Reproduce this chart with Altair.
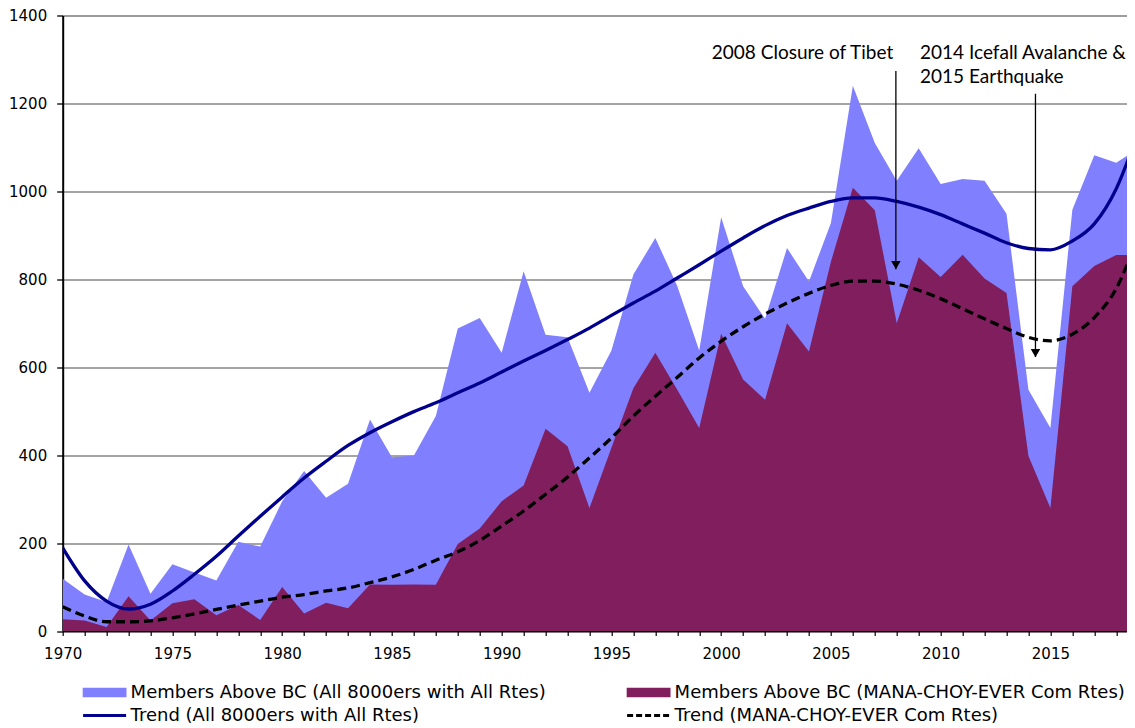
import altair as alt
import pandas as pd

YEARS = list(range(1970, 2020))

A1 = "Members Above BC (All 8000ers with All Rtes)"
A2 = "Members Above BC (MANA-CHOY-EVER Com Rtes)"
T1 = "Trend (All 8000ers with All Rtes)"
T2 = "Trend (MANA-CHOY-EVER Com Rtes)"
# legend is filled column by column: column 1 = A1, T1; column 2 = A2, T2
SERIES = [A1, T1, A2, T2]
COLORS = ["#8080FF", "#00008C", "#801E5E", "#000000"]

ALL_RTES = [119, 83, 66, 197, 85, 152, 133, 115, 203, 192,
            295, 364, 303, 335, 481, 395, 399, 489, 688, 712,
            633, 818, 674, 668, 542, 638, 811, 894, 785, 638,
            941, 784, 710, 871, 795, 928, 1240, 1110, 1024, 1098,
            1017, 1028, 1024, 949, 549, 462, 958, 1082, 1065, 1098]

MANA_RTES = [27, 24, 9, 79, 24, 63, 72, 36, 59, 25,
             100, 40, 64, 52, 106, 105, 106, 105, 198, 233,
             295, 331, 460, 420, 280, 417, 552, 633, 549, 462,
             676, 572, 526, 700, 636, 840, 1008, 957, 700, 850,
             805, 856, 802, 769, 398, 280, 784, 830, 855, 855]

TREND_ALL = [189, 114, 68, 50, 61, 91, 129, 170, 216, 261,
             305, 348, 386, 422, 451, 476, 499, 519, 542, 564,
             589, 614, 638, 663, 689, 718, 746, 773, 803, 833,
             864, 894, 922, 945, 962, 977, 985, 985, 977, 964,
             947, 926, 905, 883, 870, 867, 887, 926, 1006, 1135]

TREND_MANA = [55, 34, 21, 21, 23, 30, 39, 49, 59, 68,
              77, 83, 91, 98, 110, 123, 140, 161, 180, 206,
              239, 273, 311, 350, 394, 439, 489, 534, 577, 621,
              659, 692, 721, 746, 768, 786, 796, 796, 789, 775,
              756, 733, 710, 688, 668, 660, 675, 713, 779, 900]

X_TICKS = list(range(1970, 2019))
Y_TICKS = [0, 200, 400, 600, 800, 1000, 1200, 1400]

NOTE1 = "2008 Closure of Tibet"
NOTE2 = "2014 Icefall Avalanche &\n2015 Earthquake"

area_df = pd.DataFrame({
    "year": YEARS * 2,
    "value": ALL_RTES + MANA_RTES,
    "series": [A1] * len(YEARS) + [A2] * len(YEARS),
})
trend_df = pd.DataFrame({
    "year": YEARS * 2,
    "value": TREND_ALL + TREND_MANA,
    "series": [T1] * len(YEARS) + [T2] * len(YEARS),
})
note1_df = pd.DataFrame({"year": [2007.84], "value": [1300], "text": [NOTE1]})
note2_df = pd.DataFrame({"year": [2009.06], "value": [1300], "text": [NOTE2]})
arrow_df = pd.DataFrame({"year": [2007.96, 2014.32],
                         "value": [823, 623], "value2": [1274, 1222]})

X_AXIS = alt.Axis(values=X_TICKS, format="d",
                  labelExpr="datum.value % 5 == 0 ? datum.label : ''",
                  labelOverlap=False, labelFlush=False, grid=False,
                  tickSize=4.5, tickColor="black", tickWidth=1.2,
                  domainColor="black", domainWidth=1.5,
                  labelFont="DejaVu Sans", labelFontSize=15,
                  labelColor="black", labelPadding=10.5)
Y_AXIS = alt.Axis(values=Y_TICKS, format="d", grid=True,
                  gridColor="#4a4a4a", gridWidth=1, gridOpacity=1,
                  tickSize=6, tickColor="black", tickWidth=1.3,
                  domainColor="black", domainWidth=2,
                  labelFont="DejaVu Sans", labelFontSize=15,
                  labelColor="black", labelPadding=10, labelFlush=False)
X_SCALE = alt.Scale(domain=[1970, 2018.49], nice=False, zero=False)
Y_SCALE = alt.Scale(domain=[0, 1400], nice=False)

X = alt.X("year:Q", scale=X_SCALE, axis=X_AXIS, title=None)
Y = alt.Y("value:Q", scale=Y_SCALE, axis=Y_AXIS, title=None)
Y_AREA = alt.Y("value:Q", stack=None, scale=Y_SCALE, axis=Y_AXIS, title=None)

SCALE = alt.Scale(domain=SERIES, range=COLORS)
LEGEND = alt.Legend(
    title=None, orient="none", legendX=18.9, legendY=667.0,
    columns=2, columnPadding=79, rowPadding=3, clipHeight=20, padding=0,
    labelFont="DejaVu Sans", labelFontSize=18, labelColor="black",
    labelLimit=800, labelOffset=3,
    symbolSize=1849, symbolStrokeWidth=3, symbolOpacity=1,
    symbolType={"expr": "indexof(datum.value, 'Trend') == 0 ? 'stroke' : 'M-0.95,-0.1465H0.95V0.1465H-0.95Z'"},
    symbolDash={"expr": "datum.value == 'Trend (MANA-CHOY-EVER Com Rtes)' ? [6, 3] : []"},
    symbolStrokeColor={"expr": "scale('color', datum.value)"},
)

area_all = alt.Chart(area_df).transform_filter(
    alt.datum.series == A1
).mark_area(clip=True, opacity=1, interpolate="linear").encode(
    x=X, y=Y_AREA,
    color=alt.Color("series:N", scale=SCALE, legend=LEGEND),
)
area_mana = alt.Chart(area_df).transform_filter(
    alt.datum.series == A2
).mark_area(clip=True, opacity=1, interpolate="linear").encode(
    x=X, y=Y_AREA,
    color=alt.Color("series:N", scale=SCALE, legend=None),
)
line_all = alt.Chart(trend_df).transform_filter(
    alt.datum.series == T1
).mark_line(clip=True, strokeWidth=3.3, interpolate="monotone").encode(
    x=X, y=Y, color=alt.Color("series:N", scale=SCALE, legend=None),
)
line_mana = alt.Chart(trend_df).transform_filter(
    alt.datum.series == T2
).mark_line(clip=True, strokeWidth=3.3, strokeDash=[9, 5],
            interpolate="monotone").encode(
    x=X, y=Y, color=alt.Color("series:N", scale=SCALE, legend=None),
)

arrow_lines = alt.Chart(arrow_df).mark_rule(color="black", strokeWidth=1.3).encode(
    x=X, y=Y, y2="value2:Q")
arrow_heads = alt.Chart(arrow_df).mark_point(
    shape="triangle-down", filled=True, color="black", opacity=1, size=90, yOffset=-4
).encode(x=X, y=Y)

note1 = alt.Chart(note1_df).mark_text(
    align="right", baseline="alphabetic", font="Lato", fontSize=19, color="black"
).encode(x=X, y=Y, text="text:N")
note2 = alt.Chart(note2_df).mark_text(
    align="left", baseline="alphabetic", font="Lato", fontSize=19, color="black",
    lineBreak="\n", lineHeight=24
).encode(x=X, y=Y, text="text:N")

chart = alt.layer(
    area_all, area_mana, line_all, line_mana, arrow_lines, arrow_heads, note1, note2
).properties(
    width=1064.3, height=615.5,
    autosize=alt.AutoSizeParams(type="none"),
    padding={"left": 54.7, "top": 7.5, "right": 0, "bottom": 100},
).configure_view(
    fill="#E6E2E2", stroke="transparent"
).configure(
    font="DejaVu Sans", background="white"
)

chart.save("out.html", embed_options={"renderer": "svg", "actions": False})
